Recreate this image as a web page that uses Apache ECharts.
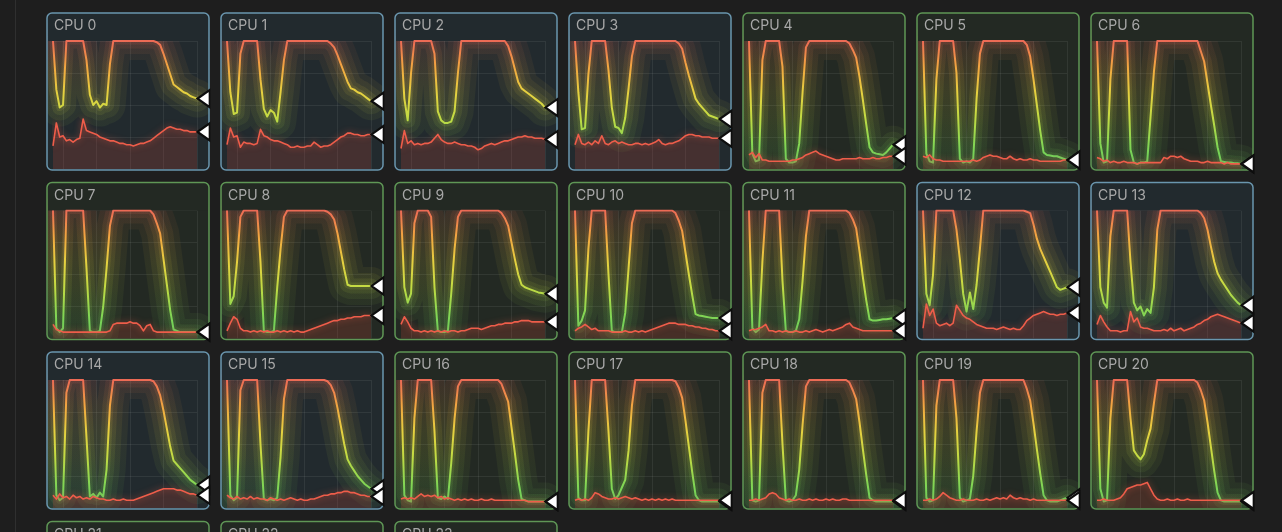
<!DOCTYPE html>
<html>
<head>
<meta charset="utf-8">
<script src="https://cdn.jsdelivr.net/npm/echarts/dist/echarts.min.js"></script>
<style>
html,body{margin:0;padding:0;background:#1e1e1e;overflow:hidden}
#chart{width:1282px;height:532px}
</style>
</head>
<body>
<div id="chart"></div>
<script>
// ---------- DATA ----------
const timeIndex = [0,1,2,3,4,5,6,7,8,9,10,11,12,13,14,15,16,17,18,19,20,21,22,23,24,25,26,27,28,29,30,31,32,33,34,35,36,37,38,39,40,41,42,43];

const cpuNames = ['CPU 0','CPU 1','CPU 2','CPU 3','CPU 4','CPU 5','CPU 6','CPU 7','CPU 8','CPU 9','CPU 10','CPU 11','CPU 12','CPU 13','CPU 14','CPU 15','CPU 16','CPU 17','CPU 18','CPU 19','CPU 20','CPU 21','CPU 22','CPU 23'];

const cpu0Total = [100,62,48,50,100,100,100,100,100,100, 85,58,50,53,48,51,50,82,100,100, 100,100,100,100,100,100,100,100,100,100, 100,99,97,90,82,74,66,64,62,60, 59,57,56,55];
const cpu0Sys   = [18,36,25,26,22,23,21,23,24,39, 30,29,28,27,25,24,23,22,22,21, 20,20,19,19,18,19,20,20,21,22, 24,26,28,30,32,33,32,31,31,30, 30,29,29,29];

const cpu1Total = [100,60,43,44,90,100,100,100,100,100, 70,47,41,46,44,37,60,85,100,100, 100,100,100,100,100,100,100,100,100,100, 100,98,95,89,82,75,68,63,62,60, 59,57,55,53];
const cpu1Sys   = [19,32,25,26,17,21,20,20,19,20, 31,26,25,23,22,22,21,20,19,17, 17,18,17,17,18,18,21,19,17,18, 18,19,21,23,25,26,28,28,27,27, 26,26,27,27];

const cpu2Total = [100,55,38,75,100,100,100,100,100,100, 90,45,38,36,36,37,45,75,100,100, 100,100,100,100,100,100,100,100,100,100, 100,100,96,88,78,68,63,61,59,57, 55,53,51,48];
const cpu2Sys   = [16,30,20,22,19,20,19,20,20,21, 24,27,23,21,20,20,21,20,19,19, 18,18,17,15,16,18,19,20,19,20, 21,22,22,23,24,25,25,26,25,25, 24,24,24,23];

const cpu3Total = [100,60,31,32,74,100,100,100,100,100, 77,48,33,32,28,40,63,88,100,100, 100,100,100,100,100,100,100,100,100,100, 100,98,94,83,73,64,55,51,48,45, 42,41,40,39];
const cpu3Sys   = [19,27,20,19,21,19,22,20,26,20, 19,21,22,20,21,20,19,19,20,20, 19,20,19,20,21,23,20,19,20,20, 21,22,24,26,27,27,26,26,25,25, 25,24,24,24];

const cpu4Total = [100,12,6,7,85,100,100,100,100,100, 80,8,5,5,6,20,60,95,100,100, 100,100,100,100,100,100,100,100,100,100, 98,93,87,72,54,35,17,13,12,11.5, 11,13,16,19];
const cpu4Sys   = [11,13,9,12,7,7,6,6,6,6, 6,6,6,7,7,8,9,11,12,13, 14,12,11,10,9,8,7,7,8,8, 8,8,8,9,8,8,8,9,8,8, 9,9,10,10];

const cpu5Total = [100,12,6,5,70,100,100,100,100,100, 75,8,5,6,5,8,55,90,100,100, 100,100,100,100,100,100,100,100,100,100, 100,97,88,70,50,30,13,11,10.5,10, 10,9,8,7];
const cpu5Sys   = [10,9,11,8,7,7,6,6,6,6, 6,6,6,6,6,7,6,7,9,10, 11,10,10,9,8,8,10,8,7,8, 7,7,8,7,7,6,6,6,6,6, 6,6,7,7];

const cpu6Total = [100,20,5,6,70,100,100,100,100,100, 15,5,4,5,5,6,41,76,100,100, 100,100,100,100,100,100,100,100,100,100, 100,92,84,67,50,34,17,6,5.5,5, 5,4.5,4.5,4];
const cpu6Sys   = [9,8,6,7,5,6,5,5,6,5, 5,5,4,5,5,5,5,5,5,5, 9,8,10,10,9,10,8,7,6,6, 6,5,5,6,5,5,5,5,4,5, 4,4,4,4];

const cpu7Total = [100,8,5,8,100,100,100,100,100,100, 55,6,5,5,6,25,55,88,100,100, 100,100,100,100,100,100,100,100,100,100, 97,90,82,62,42,22,7,6,5,5, 5,5,5,5];
const cpu7Sys   = [11,7,6,5,5,5,5,5,5,5, 5,5,5,5,5,5,5,6,11,12, 12,12,12,13,12,12,10,6,10,11, 6,5,5,5,5,5,5,5,5,5, 5,5,5,5];

const cpu8Total = [100,27,33,60,95,100,100,100,100,100, 60,6,5,5,6,40,70,95,100,100, 100,100,100,100,100,100,100,100,100,100, 99,97,93,82,68,54,42,41,41,41, 41,41,41,41];
const cpu8Sys   = [6,12,17,15,8,6,6,5,6,5, 6,5,6,5,5,6,5,6,5,6, 5,6,5,5,6,7,8,9,10,11, 12,13,14,14,15,15,16,16,17,17, 17,18,18,18];

const cpu9Total = [100,40,28,35,90,100,100,100,100,95, 40,6,5,5,6,35,70,95,100,100, 100,100,100,100,100,100,100,100,100,100, 98,94,88,75,62,50,42,40,39,38, 37,36,35.5,35];
const cpu9Sys   = [11,17,13,8,6,6,5,6,5,6, 5,6,5,6,5,6,6,5,6,6, 7,8,8,8,7,8,9,10,10,11, 11,12,12,12,13,13,14,14,14,13, 13,13,13,13];

const cpu10Total = [100,10,14,22,70,100,100,100,100,100, 50,6,5,5,5,20,55,90,100,100, 100,100,100,100,100,100,100,100,100,100, 98,92,84,67,50,34,19,18,17.5,17, 16.5,16,16,16];
const cpu10Sys   = [6,8,9,11,9,7,8,6,6,6, 6,5,5,5,5,6,5,5,6,5, 6,5,6,7,8,9,10,11,12,12, 12,11,11,11,10,10,9,9,8,8, 7,7,6,6];

const cpu11Total = [100,8,5,7,60,100,100,100,100,100, 45,6,5,5,6,15,45,80,100,100, 100,100,100,100,100,100,100,100,100,100, 98,93,86,68,48,30,15,14,14,14.5, 15,15,15.5,16];
const cpu11Sys   = [6,7,7,8,9,11,6,6,5,6, 5,6,5,5,6,5,5,6,5,6, 7,6,5,6,7,6,7,8,9,11, 12,9,8,7,6,6,6,6,6,6, 6,6,6,6];

const cpu12Total = [100,35,26,50,100,100,100,100,100,100, 85,62,35,21,36,23,42,70,100,100, 100,100,100,100,100,100,100,100,100,100, 100,99,98,89,78,70,64,58,52,46, 40,38,39,40];
const cpu12Sys   = [8,27,18,23,12,10,11,12,10,12, 26,22,18,16,15,13,11,10,9,8, 8,8,7,8,9,8,7,8,7,7, 10,14,16,18,19,20,21,20,19,19, 18,19,19,20];

const cpu13Total = [100,40,28,24,80,100,100,100,100,100, 60,28,22,25,18,23,20,40,85,100, 100,100,100,100,100,100,100,100,100,100, 100,98,94,85,72,60,51,46,42,38, 34,31,28,26];
const cpu13Sys   = [11,18,13,9,6,6,6,5,6,6, 21,13,16,9,8,8,7,6,6,6, 7,6,8,6,7,8,6,7,8,9, 11,12,14,15,17,18,19,18,17,16, 15,14,13,12];

const cpu14Total = [100,10,6,8,90,100,100,100,100,100, 55,9,11,8,12,9,30,80,100,100, 100,100,100,100,100,100,100,100,100,100, 99,95,88,76,62,48,37,34,31,28, 25,22,20,18];
const cpu14Sys   = [10,7,11,8,9,7,10,8,9,7, 8,7,9,8,7,7,6,6,7,6, 6,7,6,6,6,7,8,9,10,11, 12,13,14,15,15,15,15,14,14,13, 12,11,11,10];

const cpu15Total = [100,10,6,8,92,100,100,100,100,100, 50,7,6,7,6,8,40,85,100,100, 100,100,100,100,100,100,100,100,100,100, 99,96,90,78,64,50,38,33,29,25, 22,19,17,15];
const cpu15Sys   = [10,8,7,9,7,8,7,9,7,8, 7,7,6,8,7,6,7,6,7,8, 7,6,7,6,6,7,7,8,9,10, 10,11,11,12,12,13,13,12,12,11, 10,10,9,9];

const cpu16Total = [100,10,6,5,70,100,100,100,100,100, 60,8,7,9,7,35,70,95,100,100, 100,100,100,100,100,100,100,100,100,100, 97,90,83,63,43,22,7,6,5,5, 5,5,5,5];
const cpu16Sys   = [7,8,7,8,7,9,11,9,10,9, 10,8,9,7,8,7,6,7,6,7, 6,7,6,6,7,6,6,7,6,6, 6,6,6,6,6,6,6,6,5,5, 5,5,5,5];

const cpu17Total = [100,8,6,6,60,100,100,100,100,100, 60,15,7,10,16,22,45,80,100,100, 100,100,100,100,100,100,100,100,100,100, 99,94,86,68,48,28,10,6,5,5, 5,5,5,5];
const cpu17Sys   = [6,7,6,7,6,8,12,11,9,8, 7,7,8,7,8,9,8,7,8,7, 6,7,6,7,6,7,6,7,6,7, 6,6,6,6,6,6,6,6,6,6, 6,6,6,6];

const cpu18Total = [100,6,5,6,90,100,100,100,100,100, 50,6,5,6,10,30,65,95,100,100, 100,100,100,100,100,100,100,100,100,100, 98,92,85,67,46,26,8,6,5,5, 5,5,5,5];
const cpu18Sys   = [6,6,7,6,7,8,11,12,11,8, 7,6,7,6,6,7,6,6,7,6, 7,6,6,7,6,7,6,6,7,7, 6,6,6,6,6,6,6,6,6,6, 6,6,6,6];

const cpu19Total = [100,8,5,6,80,100,100,100,100,100, 70,8,5,6,7,25,60,90,100,100, 100,100,100,100,100,100,100,100,100,100, 100,93,84,66,46,27,10,6,5,5, 5,6,7,8];
const cpu19Sys   = [6,6,7,6,7,9,12,10,8,7, 6,6,7,6,6,6,7,6,6,7, 6,7,8,7,8,7,10,8,7,8, 7,7,6,7,6,6,6,6,6,6, 6,6,6,6];

const cpu20Total = [100,15,5,6,70,100,100,100,100,100, 70,45,41,38,42,53,62,82,100,100, 100,100,100,100,100,100,100,100,100,100, 98,92,84,67,48,29,12,6,5,5, 5,5,5,5];
const cpu20Sys   = [6,6,7,6,6,6,7,8,11,15, 16,17,18,18,19,20,15,10,7,6, 6,7,6,6,7,6,6,7,6,6, 6,6,6,6,6,6,6,6,6,6, 6,6,6,6];

const totalSeries = [cpu0Total,cpu1Total,cpu2Total,cpu3Total,cpu4Total,cpu5Total,cpu6Total,cpu7Total,cpu8Total,cpu9Total,cpu10Total,cpu11Total,cpu12Total,cpu13Total,cpu14Total,cpu15Total,cpu16Total,cpu17Total,cpu18Total,cpu19Total,cpu20Total];
const sysSeries   = [cpu0Sys,cpu1Sys,cpu2Sys,cpu3Sys,cpu4Sys,cpu5Sys,cpu6Sys,cpu7Sys,cpu8Sys,cpu9Sys,cpu10Sys,cpu11Sys,cpu12Sys,cpu13Sys,cpu14Sys,cpu15Sys,cpu16Sys,cpu17Sys,cpu18Sys,cpu19Sys,cpu20Sys];

// ---------- STYLE / LAYOUT ----------
const bluePanels = [0,1,2,3,12,13,14,15];
const COLS = 7, ROWS = 4, ORIGIN_X = 47, ORIGIN_Y = 13, COL_PITCH = 174, ROW_PITCH = 169.5;
const PANEL_W = 162, PANEL_H = 157;
const PAGE_BG = '#1e1e1e';
const GRID_COLOR = 'rgba(255,255,255,0.07)';
const LAST = timeIndex.length - 1;
const TRI = 'path://M0,5L10,0L10,10Z';
const GLOW = [{w: 38, o: 0.06}, {w: 26, o: 0.07}, {w: 15, o: 0.09}, {w: 7, o: 0.12}];
const Z_MASK = 2.5, Z_BORDER = 2.6;

const grids = [], xAxes = [], yAxes = [], series = [], graphics = [], upperIdx = [];

// page-coloured masks between panels (hide glow overflow)
const maskPage = (x, y, w, h) => graphics.push({type: 'rect', z: Z_MASK, silent: true,
  shape: {x, y, width: w, height: h}, style: {fill: PAGE_BG}});
maskPage(0, 0, 1282, ORIGIN_Y);
maskPage(0, 0, ORIGIN_X, 532);
maskPage(ORIGIN_X + (COLS - 1) * COL_PITCH + PANEL_W, 0, 100, 532);
for (let c = 0; c < COLS - 1; c++) maskPage(ORIGIN_X + c * COL_PITCH + PANEL_W, 0, COL_PITCH - PANEL_W, 532);
for (let r = 0; r < ROWS - 1; r++) maskPage(0, ORIGIN_Y + r * ROW_PITCH + PANEL_H, 1282, ROW_PITCH - PANEL_H);

graphics.push({type: 'line', z: Z_BORDER, silent: true,
  shape: {x1: 15.5, y1: 0, x2: 15.5, y2: 532}, style: {stroke: '#2f2f2f', lineWidth: 1}});

cpuNames.forEach((name, i) => {
  const c = i % COLS, r = Math.floor(i / COLS);
  const px = ORIGIN_X + c * COL_PITCH, py = ORIGIN_Y + r * ROW_PITCH;
  const blue = bluePanels.includes(i);
  const fill = blue ? '#222a2e' : '#232923';
  graphics.push({type: 'rect', z: 0, silent: true,
    shape: {x: px, y: py, width: PANEL_W, height: PANEL_H, r: 5}, style: {fill}});
  // panel-coloured title band and bottom edge (hide glow overflow)
  graphics.push({type: 'rect', z: Z_MASK, silent: true,
    shape: {x: px + 1, y: py + 1, width: PANEL_W - 2, height: 27, r: [4, 4, 0, 0]}, style: {fill}});
  graphics.push({type: 'rect', z: Z_MASK, silent: true,
    shape: {x: px + 1, y: py + 156, width: PANEL_W - 2, height: PANEL_H - 156, r: [0, 0, 4, 4]}, style: {fill}});
  graphics.push({type: 'rect', z: Z_BORDER, silent: true,
    shape: {x: px, y: py, width: PANEL_W, height: PANEL_H, r: 5},
    style: {fill: 'none', stroke: blue ? '#6a96ae' : '#5f9756', lineWidth: 1.5}});
  graphics.push({type: 'text', z: 10, silent: true, x: px + 7, y: py + 6,
    style: {text: name, fill: '#a8a8a8', font: '14px Inter, "Noto Sans", sans-serif', verticalAlign: 'top', align: 'left'}});

  if (i >= totalSeries.length) return;
  const g = grids.length;
  grids.push({left: px + 6, top: py + 28, width: 144, height: 128, show: false});
  xAxes.push({type: 'category', gridIndex: g, data: timeIndex, boundaryGap: false,
    axisLine: {show: false}, axisTick: {show: false}, axisLabel: {show: false},
    splitLine: {show: true, interval: (idx) => (LAST - idx) % 10 === 0, lineStyle: {color: GRID_COLOR, width: 1}}});
  yAxes.push({type: 'value', gridIndex: g, min: 0, max: 100, interval: 25,
    axisLine: {show: false}, axisTick: {show: false}, axisLabel: {show: false},
    splitLine: {show: true, lineStyle: {color: ['rgba(0,0,0,0)', GRID_COLOR, GRID_COLOR, GRID_COLOR, GRID_COLOR], width: 1}}});

  const tot = totalSeries[g], sys = sysSeries[g];
  GLOW.forEach(gl => {
    series.push({type: 'line', xAxisIndex: g, yAxisIndex: g, data: tot, symbol: 'none', silent: true, z: 2,
      lineStyle: {width: gl.w, opacity: gl.o, cap: 'round', join: 'round'}});
    upperIdx.push(series.length - 1);
  });
  const mark = (v) => ({symbol: TRI, symbolSize: [12, 17], symbolOffset: [6.5, 0], silent: true, animation: false,
    itemStyle: {color: '#ffffff', borderColor: '#0d0d0d', borderWidth: 2}, label: {show: false},
    data: [{coord: [LAST, v]}]});
  series.push({type: 'line', xAxisIndex: g, yAxisIndex: g, data: tot, symbol: 'none', z: 3,
    lineStyle: {width: 2, join: 'round'}, markPoint: mark(tot[LAST])});
  upperIdx.push(series.length - 1);
  series.push({type: 'line', xAxisIndex: g, yAxisIndex: g, data: sys, symbol: 'none', z: 4,
    itemStyle: {color: '#ee5d4a'},
    lineStyle: {width: 1.6, color: '#ee5d4a', join: 'round', shadowBlur: 6, shadowColor: 'rgba(238,93,74,0.6)'},
    areaStyle: {color: 'rgba(205,70,55,0.3)'},
    markPoint: mark(sys[LAST])});
});

const chart = echarts.init(document.getElementById('chart'), null, {renderer: 'canvas'});
chart.setOption({
  backgroundColor: PAGE_BG,
  animation: false,
  grid: grids,
  xAxis: xAxes,
  yAxis: yAxes,
  visualMap: [{type: 'continuous', show: false, min: 0, max: 100, dimension: 1, seriesIndex: upperIdx,
    inRange: {color: ['#5fcf5f', '#86d653', '#c2db43', '#e6d040', '#f2a641', '#ec6a55']}}],
  graphic: graphics,
  series: series
});
</script>
</body>
</html>
